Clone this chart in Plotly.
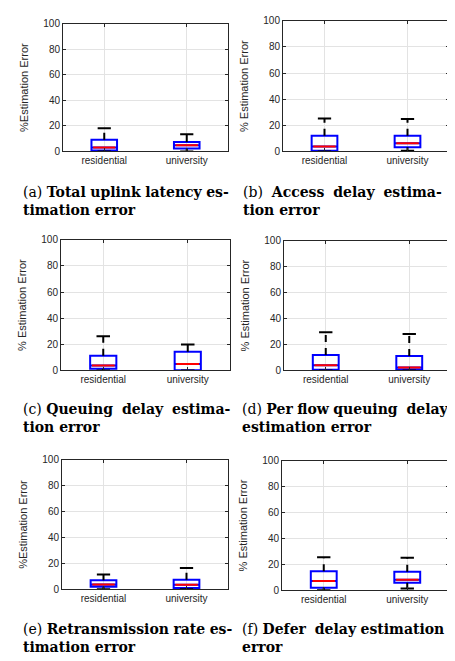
import plotly.graph_objects as go

# ---------------- data ----------------
categories = ["residential", "university"]
positions = [1, 2]

panel_labels = ["(a)", "(b)", "(c)", "(d)", "(e)", "(f)"]
caption_line1 = ["Total uplink latency es-", "Access delay estima-",
                 "Queuing delay estima-", "Per flow queuing delay",
                 "Retransmission rate es-", "Defer delay estimation"]
caption_line2 = ["timation error", "tion error", "tion error",
                 "estimation error", "timation error", "error"]
y_titles = ["%Estimation Error", "% Estimation Error",
            "% Estimation Error", "% Estimation Error",
            "%Estimation Error", "% Estimation Error"]

# per panel: [residential, university]
whisker_low = [[0, 0], [0, 0.5], [0, 0], [0, 0], [0, 0], [0, 1.5]]
q1 = [[0.8, 2.3], [0.5, 3.2], [1.3, 0.2], [0.5, 0.5], [2.0, 1.0], [2.0, 5.8]]
median = [[3.1, 4.8], [3.8, 6.3], [3.8, 5.0], [4.0, 2.3], [3.8, 3.6], [7.3, 8.1]]
q3 = [[9.2, 7.4], [12.0, 12.0], [11.3, 14.3], [11.9, 11.1], [7.1, 7.4], [14.7, 14.4]]
whisker_high = [[18.1, 13.5], [25.3, 24.8], [26.1, 19.8], [29.4, 28.1], [11.4, 16.5], [25.6, 25.1]]

y_ticks = [0, 20, 40, 60, 80, 100]

# ---------------- layout constants ----------------
W, H = 455, 661
# plot areas in pixels: (left, right, top, bottom)
areas = [(55, 220, 10, 140), (275, 441, 7, 140),
         (53, 222, 230, 363), (276, 443, 231, 363),
         (54, 220, 454, 586), (274, 441, 455, 587)]
caption_pos = [(13, 190.5), (233, 190.5), (13, 411.5), (232, 411.5), (13, 636), (232, 636)]
# extra non-breaking spaces per word gap (label->w1, w1->w2, ...) to imitate justification
caption_pad = [[0, 0, 0, 0], [1, 1, 1], [0, 1, 1], [0, 0, 0, 1], [0, 0, 0], [0, 1, 0]]

BOX_HALF = 0.155
CAP_HALF = 0.08
TXT = "#262626"
GRID = "#e3e3e3"
NBSP = "\u00a0"

fig = go.Figure()
layout = dict(width=W, height=H, margin=dict(l=0, r=0, t=0, b=0),
              paper_bgcolor="white", plot_bgcolor="white", showlegend=False,
              boxmode="overlay", annotations=[])

for p in range(6):
    xa = "x" if p == 0 else f"x{p+1}"
    ya = "y" if p == 0 else f"y{p+1}"
    l, r, t, b = areas[p]
    for i, pos in enumerate(positions):
        # dashed whiskers
        fig.add_trace(go.Scatter(
            x=[pos, pos, None, pos, pos],
            y=[q3[p][i], whisker_high[p][i], None, q1[p][i], whisker_low[p][i]],
            mode="lines", line=dict(color="black", width=2, dash="7px,6px"),
            xaxis=xa, yaxis=ya, hoverinfo="skip"))
        # whisker caps
        fig.add_trace(go.Scatter(
            x=[pos - CAP_HALF, pos + CAP_HALF, None, pos - CAP_HALF, pos + CAP_HALF],
            y=[whisker_high[p][i], whisker_high[p][i], None,
               whisker_low[p][i], whisker_low[p][i]],
            mode="lines", line=dict(color="black", width=2),
            xaxis=xa, yaxis=ya, hoverinfo="skip"))
        # blue box
        fig.add_trace(go.Box(
            x=[pos], q1=[q1[p][i]], median=[median[p][i]], q3=[q3[p][i]],
            lowerfence=[q1[p][i]], upperfence=[q3[p][i]],
            width=2 * BOX_HALF, whiskerwidth=0,
            line=dict(color="#0000ff", width=2), fillcolor="rgba(0,0,0,0)",
            xaxis=xa, yaxis=ya, name=categories[i]))
        # red median
        fig.add_trace(go.Scatter(
            x=[pos - BOX_HALF + 0.02, pos + BOX_HALF - 0.02],
            y=[median[p][i], median[p][i]],
            mode="lines", line=dict(color="#ff0000", width=2),
            xaxis=xa, yaxis=ya, hoverinfo="skip"))

    axkey_x = "xaxis" if p == 0 else f"xaxis{p+1}"
    axkey_y = "yaxis" if p == 0 else f"yaxis{p+1}"
    layout[axkey_x] = dict(
        domain=[l / W, r / W], anchor=ya, range=[0.5, 2.5],
        tickmode="array", tickvals=positions, ticktext=categories,
        showgrid=True, gridcolor=GRID, gridwidth=1, zeroline=False,
        showline=True, linecolor=TXT, linewidth=1, mirror="ticks",
        ticks="inside", ticklen=3, tickcolor=TXT,
        tickfont=dict(family="Liberation Sans", size=10, color=TXT))
    layout[axkey_y] = dict(
        domain=[1 - b / H, 1 - t / H], anchor=xa, range=[0, 100],
        tickmode="array", tickvals=y_ticks,
        showgrid=True, gridcolor=GRID, gridwidth=1, zeroline=False,
        showline=True, linecolor=TXT, linewidth=1, mirror="ticks",
        ticks="inside", ticklen=3, tickcolor=TXT,
        tickfont=dict(family="Liberation Sans", size=10, color=TXT),
        title=dict(text=y_titles[p], standoff=12,
                   font=dict(family="Liberation Sans", size=11, color=TXT)))

    words = [panel_labels[p]] + caption_line1[p].split(" ")
    pads = caption_pad[p]
    line1 = words[0]
    for k, w in enumerate(words[1:]):
        sep = " " + NBSP * pads[k]
        line1 += sep + ("<b>" + w + "</b>")
    cx, cy = caption_pos[p]
    layout["annotations"].append(dict(
        xref="paper", yref="paper", x=cx / W, y=1 - cy / H,
        xanchor="left", yanchor="middle", align="left", showarrow=False,
        text=f"{line1}<br><b>{caption_line2[p]}</b>",
        font=dict(family="DejaVu Serif", size=14, color="black")))

fig.update_layout(**layout)
fig.write_html("out.html")
